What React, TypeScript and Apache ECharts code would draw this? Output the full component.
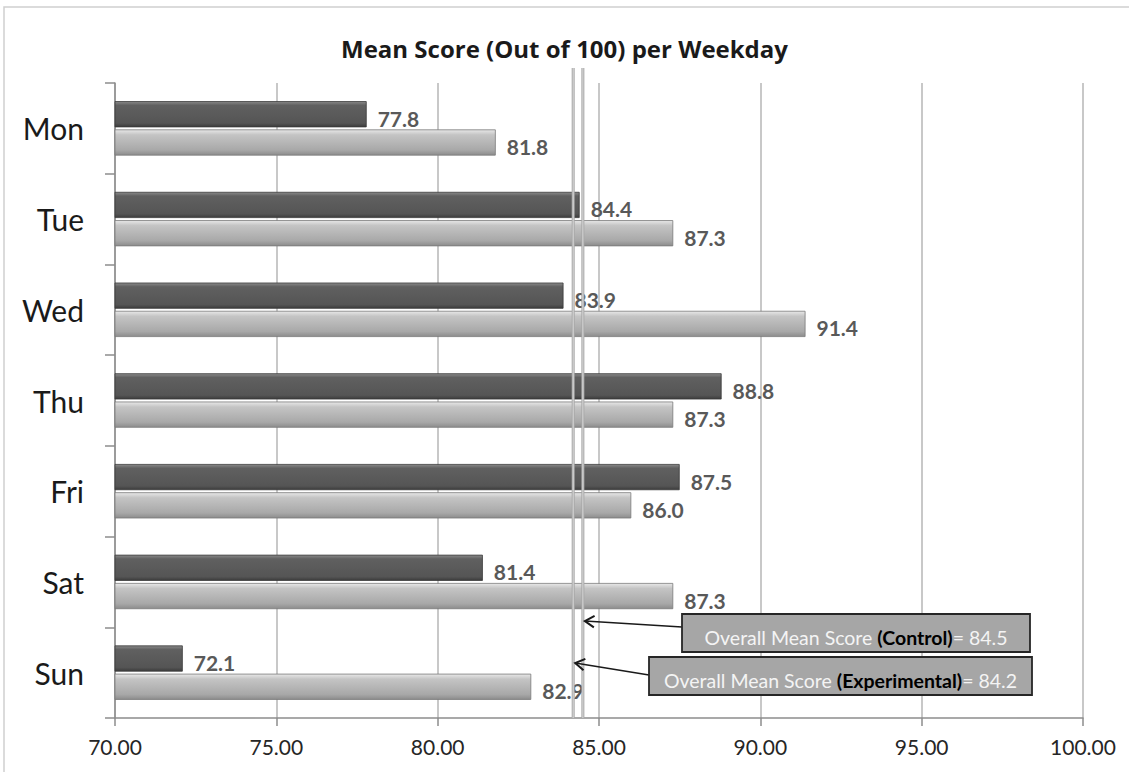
import React, { useEffect, useRef } from "react";
import * as echarts from "echarts";

const categories = ["Mon", "Tue", "Wed", "Thu", "Fri", "Sat", "Sun"];
const controlScores = [77.8, 84.4, 83.9, 88.8, 87.5, 81.4, 72.1];
const experimentalScores = [81.8, 87.3, 91.4, 87.3, 86.0, 87.3, 82.9];
const xMin = 70;
const xMax = 100;
const xInterval = 5;
const meanNames = ["Control", "Experimental"];
const meanValues = [84.5, 84.2];

const FONT = "Lato, 'Open Sans', sans-serif";

export default function App() {
  const ref = useRef<HTMLDivElement>(null);
  useEffect(() => {
    document.body.style.margin = "0";
    const chart = echarts.init(ref.current!, undefined, { renderer: "svg" });
    const gridTop = 83;
    const gridBottom = 54;
    const gridLeft = 115;
    const gridRight = 46;

    const darkGrad = new echarts.graphic.LinearGradient(0, 0, 0, 1, [
      { offset: 0, color: "#8a8a8a" },
      { offset: 0.15, color: "#606060" },
      { offset: 0.85, color: "#555555" },
      { offset: 1, color: "#3c3c3c" },
    ]);
    const lightGrad = new echarts.graphic.LinearGradient(0, 0, 0, 1, [
      { offset: 0, color: "#e8e8e8" },
      { offset: 0.2, color: "#c4c4c4" },
      { offset: 0.8, color: "#a8a8a8" },
      { offset: 1, color: "#8c8c8c" },
    ]);

    const labelStyle = {
      show: true,
      position: "right" as const,
      distance: 11,
      offset: [0, 4],
      color: "#595959",
      fontWeight: "bold" as const,
      fontSize: 21,
      fontFamily: FONT,
      formatter: (p: any) => Number(p.value).toFixed(1),
    };

    chart.setOption({
      animation: false,
      backgroundColor: "#ffffff",
      title: {
        text: "Mean Score (Out of 100) per Weekday",
        left: "center",
        top: 31,
        textStyle: { fontFamily: "'Open Sans', Lato, sans-serif", fontSize: 24, fontWeight: "bold", color: "#1a1a1a" },
      },
      grid: { left: gridLeft, right: gridRight, top: gridTop, bottom: gridBottom, containLabel: false },
      xAxis: {
        type: "value",
        min: xMin,
        max: xMax,
        interval: xInterval,
        axisLine: { show: true, lineStyle: { color: "#8c8c8c", width: 1.5 } },
        axisTick: { show: true, length: 8, lineStyle: { color: "#8c8c8c", width: 1.5 } },
        splitLine: { show: true, lineStyle: { color: "#c8c8c8", width: 2 } },
        axisLabel: {
          formatter: (v: number) => v.toFixed(2),
          fontFamily: FONT,
          fontSize: 21,
          color: "#262626",
          margin: 18,
        },
      },
      yAxis: {
        type: "category",
        data: categories,
        inverse: true,
        axisLine: { show: true, lineStyle: { color: "#8c8c8c", width: 1.5 } },
        axisTick: { show: true, length: 10, lineStyle: { color: "#8c8c8c", width: 1.5 } },
        axisLabel: { fontFamily: FONT, fontSize: 30, color: "#1a1a1a", margin: 31 },
      },
      series: [
        {
          name: meanNames[0],
          type: "bar",
          data: controlScores,
          barCategoryGap: "40%",
          barGap: "8%",
          itemStyle: { color: darkGrad, borderColor: "#3a3a3a", borderWidth: 0.8 },
          label: labelStyle,
        },
        {
          name: meanNames[1],
          type: "bar",
          data: experimentalScores,
          barCategoryGap: "40%",
          barGap: "8%",
          itemStyle: { color: lightGrad, borderColor: "#7a7a7a", borderWidth: 0.8 },
          label: labelStyle,
        },
      ],
    });

    const h = chart.getHeight();
    const bottomY = h - gridBottom;
    const lineTop = 68;
    const xs = meanValues.map((v) => chart.convertToPixel({ xAxisIndex: 0 }, v) as number);

    const boxes = [
      { x: 682, y: 614, w: 348, h: 38, tipY: 621, startY: 627 },
      { x: 649, y: 657, w: 383, h: 38, tipY: 663, startY: 675 },
    ];

    const elements: any[] = [
      {
        type: "rect",
        shape: { x: 4, y: 7, width: 1140, height: 780 },
        style: { fill: "none", stroke: "#d0d0d0", lineWidth: 1.5 },
        z: 1,
        silent: true,
      },
    ];
    xs.forEach((x) => {
      elements.push({
        type: "line",
        shape: { x1: x, y1: lineTop, x2: x, y2: bottomY },
        style: { stroke: "#a8a8a8", lineWidth: 3 },
        z: 50,
      });
      elements.push({
        type: "line",
        shape: { x1: x, y1: lineTop, x2: x, y2: bottomY },
        style: { stroke: "#e6e6e6", lineWidth: 0.8 },
        z: 51,
      });
    });

    boxes.forEach((b, i) => {
      const tipX = xs[i] + 2;
      const tipY = b.tipY;
      const sx = b.x;
      const sy = b.startY;
      const ang = Math.atan2(sy - tipY, sx - tipX);
      const len = 11;
      const spread = 0.55;
      const p1 = [tipX + len * Math.cos(ang - spread), tipY + len * Math.sin(ang - spread)];
      const p2 = [tipX + len * Math.cos(ang + spread), tipY + len * Math.sin(ang + spread)];
      elements.push({
        type: "line",
        shape: { x1: sx, y1: sy, x2: tipX, y2: tipY },
        style: { stroke: "#1a1a1a", lineWidth: 1.6 },
        z: 60,
      });
      elements.push({
        type: "polyline",
        shape: { points: [p1, [tipX, tipY], p2] },
        style: { stroke: "#1a1a1a", lineWidth: 2, fill: "none" },
        z: 60,
      });
      elements.push({
        type: "rect",
        shape: { x: b.x, y: b.y, width: b.w, height: b.h },
        style: { fill: "#a6a6a6", stroke: "#262626", lineWidth: 1.8 },
        z: 61,
      });
      elements.push({
        type: "text",
        x: b.x + b.w / 2,
        y: b.y + b.h / 2 + 4,
        z: 62,
        style: {
          text: `{w|Overall Mean Score }{b|(${meanNames[i]})}{w|= ${meanValues[i].toFixed(1)}}`,
          align: "center",
          verticalAlign: "middle",
          fontFamily: FONT,
          fontSize: 19.5,
          rich: {
            w: { fill: "#f4f4f4", fontFamily: FONT, fontSize: 19.5 },
            b: { fill: "#000000", fontFamily: FONT, fontSize: 19.5, fontWeight: "bold" },
          },
        },
      });
    });

    chart.setOption({ graphic: { elements } });

    return () => chart.dispose();
  }, []);
  return <div ref={ref} style={{ width: 1129, height: 772 }} />;
}
